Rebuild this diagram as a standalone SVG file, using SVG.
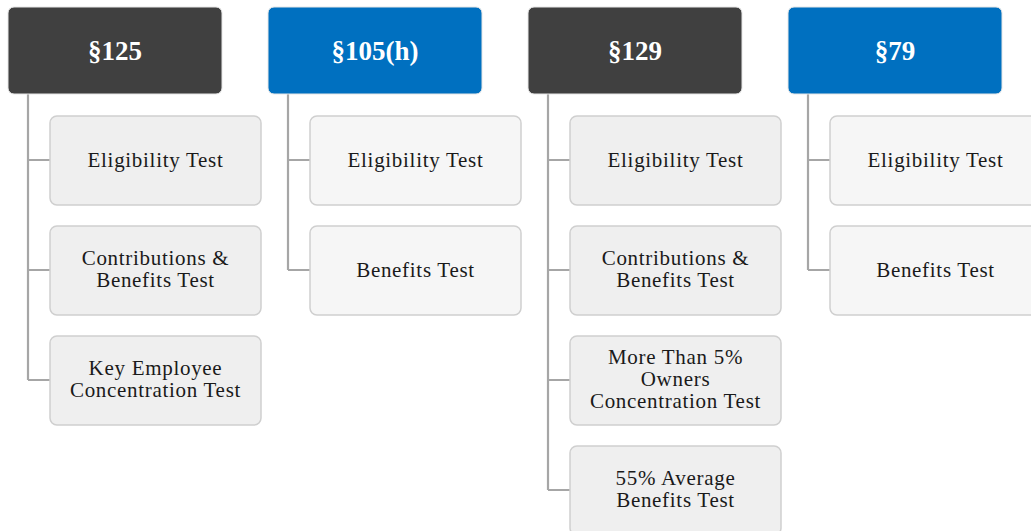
<svg xmlns="http://www.w3.org/2000/svg" width="1031" height="531" viewBox="0 0 1031 531">
<style>
.hd{stroke:#e6e6e6;stroke-width:1}
.dark{fill:#404040}
.blue{fill:#0070c0}
.ht{font-family:"Liberation Serif","DejaVu Serif",serif;font-weight:bold;font-size:27px;fill:#ffffff;text-anchor:middle}
.c1{fill:#efefef;stroke:#cfcfcf;stroke-width:1.5}
.c2{fill:#f6f6f6;stroke:#cfcfcf;stroke-width:1.5}
.ct{font-family:"Liberation Serif","DejaVu Serif",serif;font-size:21px;letter-spacing:0.7px;fill:#1a1a1a;text-anchor:middle}
.ln{fill:none;stroke:#a6a6a6;stroke-width:2.2}
</style>
<rect width="1031" height="531" fill="#ffffff"/>
<g id="connectors">
<path class="ln" d="M28,94 V380 M28,160 H50 M28,270 H50 M28,380 H50"/>
<path class="ln" d="M288,94 V270 M288,160 H310 M288,270 H310"/>
<path class="ln" d="M548,94 V490 M548,160 H570 M548,270 H570 M548,380 H570 M548,490 H570"/>
<path class="ln" d="M808,94 V270 M808,160 H830 M808,270 H830"/>
</g>
<g id="h125"><rect class="hd dark" x="8" y="7" width="214" height="87" rx="6"/><text class="ht" x="115" y="60">§125</text></g>
<g id="h105"><rect class="hd blue" x="268" y="7" width="214" height="87" rx="6"/><text class="ht" x="375" y="60">§105(h)</text></g>
<g id="h129"><rect class="hd dark" x="528" y="7" width="214" height="87" rx="6"/><text class="ht" x="635" y="60">§129</text></g>
<g id="h79"><rect class="hd blue" x="788" y="7" width="214" height="87" rx="6"/><text class="ht" x="895" y="60">§79</text></g>

<g id="c125a"><rect class="c1" x="50" y="116" width="211" height="89" rx="7"/><text class="ct" x="155.5" y="167">Eligibility Test</text></g>
<g id="c125b"><rect class="c1" x="50" y="226" width="211" height="89" rx="7"/><text class="ct" x="155.5" y="265">Contributions &amp;</text><text class="ct" x="155.5" y="287">Benefits Test</text></g>
<g id="c125c"><rect class="c1" x="50" y="336" width="211" height="89" rx="7"/><text class="ct" x="155.5" y="375">Key Employee</text><text class="ct" x="155.5" y="397">Concentration Test</text></g>

<g id="c105a"><rect class="c2" x="310" y="116" width="211" height="89" rx="7"/><text class="ct" x="415.5" y="167">Eligibility Test</text></g>
<g id="c105b"><rect class="c2" x="310" y="226" width="211" height="89" rx="7"/><text class="ct" x="415.5" y="277">Benefits Test</text></g>

<g id="c129a"><rect class="c1" x="570" y="116" width="211" height="89" rx="7"/><text class="ct" x="675.5" y="167">Eligibility Test</text></g>
<g id="c129b"><rect class="c1" x="570" y="226" width="211" height="89" rx="7"/><text class="ct" x="675.5" y="265">Contributions &amp;</text><text class="ct" x="675.5" y="287">Benefits Test</text></g>
<g id="c129c"><rect class="c1" x="570" y="336" width="211" height="89" rx="7"/><text class="ct" x="675.5" y="364">More Than 5%</text><text class="ct" x="675.5" y="386">Owners</text><text class="ct" x="675.5" y="408">Concentration Test</text></g>
<g id="c129d"><rect class="c1" x="570" y="446" width="211" height="89" rx="7"/><text class="ct" x="675.5" y="485">55% Average</text><text class="ct" x="675.5" y="507">Benefits Test</text></g>

<g id="c79a"><rect class="c2" x="830" y="116" width="211" height="89" rx="7"/><text class="ct" x="935.5" y="167">Eligibility Test</text></g>
<g id="c79b"><rect class="c2" x="830" y="226" width="211" height="89" rx="7"/><text class="ct" x="935.5" y="277">Benefits Test</text></g>
</svg>
